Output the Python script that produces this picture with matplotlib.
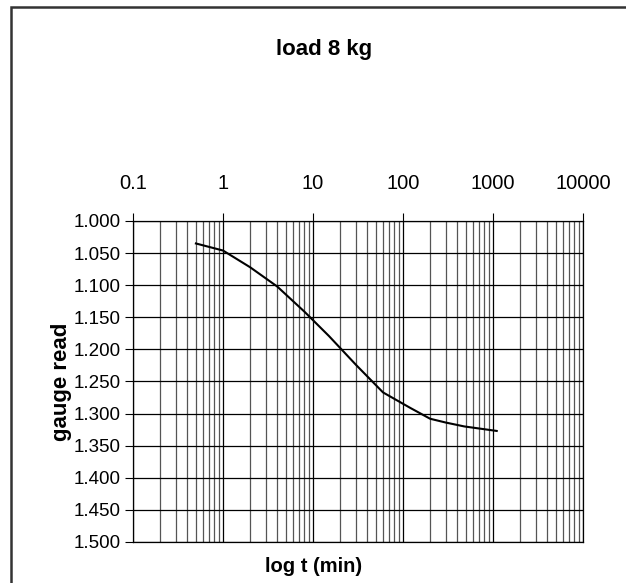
import matplotlib
matplotlib.use("Agg")
import matplotlib.pyplot as plt
from matplotlib.ticker import LogLocator, FixedLocator, FixedFormatter, NullFormatter
from matplotlib.patches import Rectangle

# data
time_min = [0.5, 1, 2, 4, 8, 15, 30, 60, 120, 200, 300, 480, 1100]
gauge = [1.035, 1.046, 1.072, 1.102, 1.141, 1.179, 1.224, 1.267, 1.291, 1.308, 1.314, 1.320, 1.327]
x_ticks = [0.1, 1, 10, 100, 1000, 10000]
x_labels = ["0.1", "1", "10", "100", "1000", "10000"]
y_ticks = [1.0, 1.05, 1.1, 1.15, 1.2, 1.25, 1.3, 1.35, 1.4, 1.45, 1.5]

plt.rcParams['font.family'] = ['Liberation Sans', 'DejaVu Sans']

fig = plt.figure(figsize=(6.26, 5.83), dpi=100)
ax = fig.add_axes([133/626, 1-542/583, 450/626, 321/583])

ax.set_xscale('log')
ax.set_xlim(0.1, 10000)
ax.set_ylim(1.5, 1.0)

ax.xaxis.set_major_locator(FixedLocator(x_ticks))
ax.xaxis.set_major_formatter(FixedFormatter(x_labels))
ax.xaxis.set_minor_locator(LogLocator(base=10, subs=range(2, 10), numticks=20))
ax.xaxis.set_minor_formatter(NullFormatter())
ax.xaxis.tick_top()
ax.tick_params(axis='x', which='major', direction='out', length=6, width=0.8, pad=14, labelsize=14.5)
ax.tick_params(axis='x', which='minor', length=0)

ax.yaxis.set_major_locator(FixedLocator(y_ticks))
ax.set_yticklabels([f"{v:.3f}" for v in y_ticks])
ax.tick_params(axis='y', which='major', direction='out', length=6, width=0.8, pad=3, labelsize=13.5)

ax.grid(True, which='major', axis='both', color='black', linewidth=0.9)
ax.grid(True, which='minor', axis='x', color='#555555', linewidth=0.9)

for s in ax.spines.values():
    s.set_color('black')
    s.set_linewidth(0.9)

ax.plot(time_min, gauge, color='black', linewidth=1.5, zorder=5)

ax.set_ylabel("gauge read", fontsize=16, fontweight='bold', labelpad=1)

fig.text(314/626, 1-567/583, "log t (min)", ha='center', va='center', fontsize=14.5, fontweight='bold')
fig.text(324/626, 1-50/583, "load 8 kg", ha='center', va='center', fontsize=16, fontweight='bold')

frame = Rectangle((11/626, -0.05), 1.2, 1 + 0.05 - 6.5/583, transform=fig.transFigure,
                  fill=False, edgecolor='#333333', linewidth=1.8, zorder=10)
fig.patches.append(frame)

fig.savefig("out.png", dpi=100)
